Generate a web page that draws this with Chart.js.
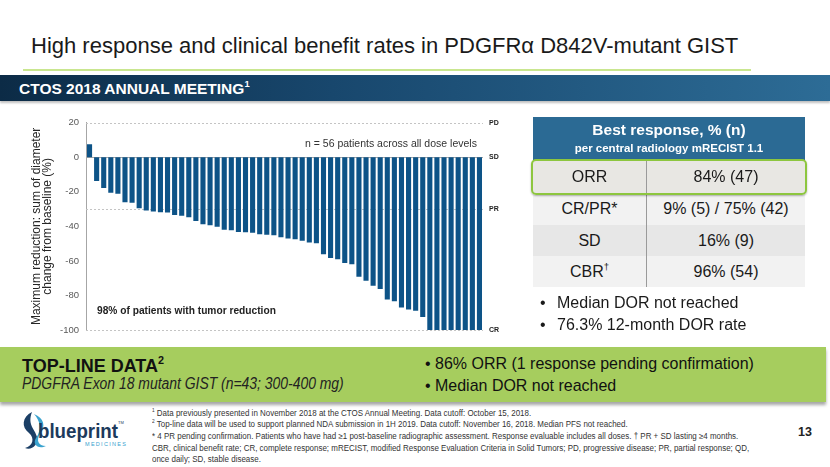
<!DOCTYPE html>
<html>
<head>
<meta charset="utf-8">
<script src="https://cdn.jsdelivr.net/npm/chart.js@4/dist/chart.umd.min.js"></script>
<style>
  html,body{margin:0;padding:0;background:#fff;}
  body{width:830px;height:467px;position:relative;overflow:hidden;font-family:"Liberation Sans",Arial,sans-serif;color:#1a1a1a;}
  .abs{position:absolute;white-space:nowrap;}
  .sq{transform-origin:0 50%;}
  #title{left:31px;top:32px;font-size:22px;line-height:28px;color:#1a1a1a;}
  #titleLine{left:23px;top:69px;width:728px;height:2px;background:#c9e68f;}
  #band{left:0;top:75px;width:830px;height:26px;background:linear-gradient(90deg,#0c2b46 0%,#18476d 40%,#2d6c96 100%);box-shadow:0 2px 2px rgba(0,0,0,0.25);}
  #bandText{left:19px;top:80px;font-size:15.5px;line-height:18px;font-weight:bold;color:#fff;}
  #chartWrap{position:absolute;left:0;top:110px;width:520px;height:235px;}
  .note{font-size:10.5px;color:#333;}
  #table{position:absolute;left:533px;top:117px;width:272px;}
  #thead{position:absolute;left:0;top:0;width:272px;height:43px;background:#2b6a94;color:#fff;text-align:center;font-weight:bold;}
  .row{position:absolute;left:0;width:272px;font-size:16px;line-height:31px;}
  .row .c1{position:absolute;left:0;width:113px;text-align:center;border-right:1px solid #9a9a9a;height:100%;}
  .row .c2{position:absolute;left:114px;width:158px;text-align:center;}
  .bul{font-size:16px;line-height:18px;color:#1a1a1a;}
  #green{left:0;top:347px;width:826px;height:55px;background:#a6cd5e;box-shadow:0 3px 3px rgba(0,0,0,0.35);}
  .foot{left:152px;font-size:8.3px;line-height:10px;color:#333;transform:scaleX(0.96);}
  sup{font-size:60%;line-height:0;position:relative;top:-0.1em;vertical-align:super;}
</style>
</head>
<body>
<div id="title" class="abs">High response and clinical benefit rates in PDGFRα D842V-mutant GIST</div>
<div id="titleLine" class="abs"></div>
<div id="band" class="abs"></div>
<div id="bandText" class="abs">CTOS 2018 ANNUAL MEETING<sup>1</sup></div>

<div id="chartWrap"><canvas id="c" width="520" height="235" style="width:520px;height:235px"></canvas></div>
<div class="abs note" style="left:305px;top:137px;">n = 56 patients across all dose levels</div>
<div class="abs note" style="left:97px;top:305px;font-weight:bold;font-size:10.2px;color:#222;">98% of patients with tumor reduction</div>

<div id="table">
  <div id="thead">
    <div style="position:absolute;left:0;top:4px;width:272px;font-size:15.5px;line-height:18px;">Best response, % (n)</div>
    <div style="position:absolute;left:0;top:24px;width:272px;font-size:11.5px;line-height:14px;">per central radiology mRECIST 1.1</div>
  </div>
  <div class="row" style="top:76px;height:32px;background:#f2f2f2;border-bottom:1px solid #d0d0d0;"><div class="c1">CR/PR*</div><div class="c2">9% (5) / 75% (42)</div></div>
  <div class="row" style="top:108px;height:31px;background:#e7e7e7;border-bottom:1px solid #d0d0d0;"><div class="c1">SD</div><div class="c2">16% (9)</div></div>
  <div class="row" style="top:139px;height:31px;background:#f2f2f2;"><div class="c1">CBR<sup>†</sup></div><div class="c2">96% (54)</div></div>
  <div class="row" style="top:44px;height:32px;background:#e8e7e3;"><div class="c1" style="line-height:32px;">ORR</div><div class="c2" style="line-height:32px;">84% (47)</div></div>
  <div style="position:absolute;left:-2px;top:42px;width:272px;height:32px;border:2px solid #8dc63f;border-radius:5px;box-shadow:0 1px 2px rgba(0,0,0,0.3);"></div>
</div>
<div class="abs bul" style="left:540px;top:294px;">•</div>
<div class="abs bul" style="left:557px;top:294px;">Median DOR not reached</div>
<div class="abs bul" style="left:540px;top:316px;">•</div>
<div class="abs bul" style="left:557px;top:316px;">76.3% 12-month DOR rate</div>

<div id="green" class="abs"></div>
<div class="abs" style="left:22px;top:355px;font-size:18px;line-height:22px;font-weight:bold;color:#111;">TOP-LINE DATA<sup>2</sup></div>
<div class="abs sq" style="left:22px;top:375px;font-size:16px;line-height:18px;font-style:italic;color:#222;transform:scaleX(0.87);">PDGFRA Exon 18 mutant GIST (n=43; 300-400 mg)</div>
<div class="abs sq" style="left:425px;top:353px;font-size:17px;line-height:22px;color:#111;transform:scaleX(0.94);">• 86% ORR (1 response pending confirmation)</div>
<div class="abs sq" style="left:425px;top:375px;font-size:17px;line-height:22px;color:#111;transform:scaleX(0.94);">• Median DOR not reached</div>

<svg class="abs" style="left:20px;top:410px;" width="120" height="45" viewBox="0 0 120 45">
  <path d="M12 2 C2 7, 1 17, 9 23 C15 28, 13 36, 5 38 C11 41, 19 35, 17 27 C15 19, 7 15, 12 2 Z" fill="#1b3f66"/>
  <path d="M14 4 C20 10, 22 20, 16 28 C12 34, 18 40, 26 36 C18 36, 16 30, 20 24 C26 16, 24 8, 14 4 Z" fill="#3aa3cf"/>
  <text x="18" y="28" font-family="Liberation Sans, Arial, sans-serif" font-weight="bold" font-size="21" fill="#1c3a5c" textLength="80" lengthAdjust="spacingAndGlyphs">blueprint</text>
  <text x="98" y="14" font-family="Liberation Sans, Arial, sans-serif" font-size="4" fill="#1c3a5c">TM</text>
  <text x="65" y="36" font-family="Liberation Sans, Arial, sans-serif" font-size="5.5" fill="#3aa3cf" letter-spacing="1.3">MEDICINES</text>
</svg>

<div class="abs foot sq" style="top:408px;"><sup>1</sup> Data previously presented in November 2018 at the CTOS Annual Meeting. Data cutoff: October 15, 2018.</div>
<div class="abs foot sq" style="top:419px;"><sup>2</sup> Top-line data will be used to support planned NDA submission in 1H 2019. Data cutoff: November 16, 2018. Median PFS not reached.</div>
<div class="abs foot sq" style="top:431px;">* 4 PR pending confirmation. Patients who have had ≥1 post-baseline radiographic assessment. Response evaluable includes all doses. † PR + SD lasting ≥4 months.</div>
<div class="abs foot sq" style="top:443px;">CBR, clinical benefit rate; CR, complete response; mRECIST, modified Response Evaluation Criteria in Solid Tumors; PD, progressive disease; PR, partial response; QD,</div>
<div class="abs foot sq" style="top:454px;">once daily; SD, stable disease.</div>
<div class="abs" style="left:798px;top:425px;font-size:12.5px;line-height:15px;font-weight:bold;color:#222;">13</div>

<script>
// ---- data ----
const patients = [1,2,3,4,5,6,7,8,9,10,11,12,13,14,15,16,17,18,19,20,21,22,23,24,25,26,27,28,
  29,30,31,32,33,34,35,36,37,38,39,40,41,42,43,44,45,46,47,48,49,50,51,52,53,54,55,56];
const maxReduction = [7.5, -13.8, -17.8, -20.6, -21.2, -26.0, -26.4, -29.5, -30.8, -31.4, -31.9, -32.0,
  -33.5, -33.9, -34.8, -36.9, -38.8, -39.4, -40.3, -41.9, -42.3, -43.2, -43.4, -43.7, -44.6, -44.8,
  -45.2, -46.3, -47.0, -47.4, -48.3, -49.4, -49.8, -56.1, -58.3, -59.1, -61.2, -62.0, -69.2, -71.5,
  -74.4, -76.3, -82.4, -83.4, -87.0, -88.1, -88.9, -92.5, -100, -100, -100, -100, -100, -100, -100, -100];
const yTicks = [20, 0, -20, -40, -60, -80, -100];
const refValues = [20, 0, -30, -100];
const refLabels = ['PD', 'SD', 'PR', 'CR'];
const yTitle = ['Maximum reduction: sum of diameter', 'change from baseline (%)'];

const refLines = {
  id: 'refLines',
  beforeDatasetsDraw(chart) {
    const {ctx, chartArea, scales} = chart;
    const y = scales.y;
    ctx.save();
    refValues.forEach(v => {
      const py = Math.round(y.getPixelForValue(v)) + 0.5;
      ctx.beginPath();
      ctx.lineWidth = 1;
      if (v === 0) { ctx.setLineDash([]); ctx.strokeStyle = '#a6a6a6'; }
      else { ctx.setLineDash([2, 2]); ctx.strokeStyle = '#c4c4c4'; }
      ctx.moveTo(chartArea.left, py);
      ctx.lineTo(chartArea.right, py);
      ctx.stroke();
    });
    ctx.restore();
  }
};

new Chart(document.getElementById('c'), {
  type: 'bar',
  data: {
    labels: patients,
    datasets: [{
      data: maxReduction,
      backgroundColor: '#0d5387',
      borderWidth: 0,
      barPercentage: 0.72,
      categoryPercentage: 1.0
    }]
  },
  options: {
    responsive: false,
    animation: false,
    devicePixelRatio: 1,
    layout: { padding: { top: 10.7, bottom: 15, left: 0, right: 0 } },
    plugins: { legend: { display: false }, tooltip: { enabled: false } },
    scales: {
      x: { display: false },
      y: {
        position: 'left',
        min: -100, max: 20,
        afterBuildTicks: a => { a.ticks = yTicks.map(v => ({ value: v })); },
        afterFit: s => { s.width = 86; },
        grid: { display: false, drawTicks: false },
        border: { display: true, color: '#a6a6a6', width: 1 },
        ticks: { color: '#595959', font: { family: 'Liberation Sans, Arial, sans-serif', size: 9.5 }, padding: 7 },
        title: {
          display: true, text: yTitle, color: '#262626',
          font: { family: 'Liberation Sans, Arial, sans-serif', size: 12, lineHeight: 0.95 },
          padding: { top: 31, bottom: 0 }
        }
      },
      y2: {
        position: 'right',
        min: -100, max: 20,
        afterBuildTicks: a => { a.ticks = refValues.map(v => ({ value: v })); },
        afterFit: s => { s.width = 37; },
        grid: { display: false, drawTicks: false },
        border: { display: false },
        ticks: {
          color: '#222', padding: 6,
          font: { family: 'Liberation Sans, Arial, sans-serif', size: 7, weight: 'bold' },
          callback: v => refLabels[refValues.indexOf(v)]
        }
      }
    }
  },
  plugins: [refLines]
});
</script>
</body>
</html>
